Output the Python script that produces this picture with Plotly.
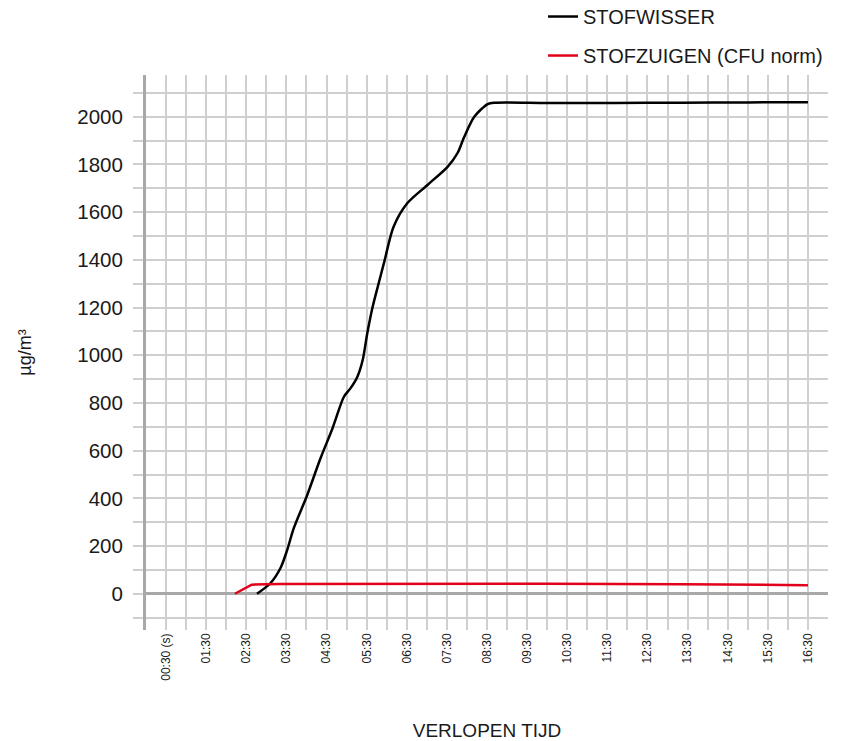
import plotly.graph_objects as go

# time in seconds
stofwisser_t = [166, 186, 201, 211, 221, 241, 261, 279, 296, 306, 316, 324, 331, 339, 348, 357,
                370, 391, 421, 451, 466, 476, 491, 511, 521, 600, 700, 800, 900, 990]
stofwisser_v = [0, 44, 107, 182, 275, 413, 568, 694, 826, 862, 909, 979, 1093, 1203, 1302, 1399,
                1537, 1638, 1714, 1790, 1848, 1916, 2000, 2053, 2059, 2058, 2058, 2059, 2060, 2061]

stofzuigen_t = [133, 158, 200, 400, 600, 800, 990]
stofzuigen_v = [0, 38, 41, 43, 42, 40, 36]

tick_vals = [30 + 60 * i for i in range(17)]
tick_text = ["00:30 (s)"] + [f"{m:02d}:30" for m in range(1, 17)]

FONT = "Liberation Sans, Arial, sans-serif"

fig = go.Figure()
fig.add_trace(go.Scatter(x=stofwisser_t, y=stofwisser_v, mode="lines", name="STOFWISSER",
                         line=dict(color="#000000", width=2.5, shape="spline", smoothing=0.8),
                         legendgroup="a"))
fig.add_trace(go.Scatter(x=stofzuigen_t, y=stofzuigen_v, mode="lines", name="STOFZUIGEN (CFU norm)",
                         line=dict(color="#e2001a", width=2.5), legendgroup="b"))

fig.update_layout(
    width=845, height=741,
    margin=dict(l=146, r=17, t=75, b=111, autoexpand=False),
    paper_bgcolor="white", plot_bgcolor="white",
    font=dict(family=FONT, color="#1a1a1a"),
    showlegend=True,
    legend=dict(x=1, xanchor="right", y=1.1405, yanchor="top", font=dict(size=20, color="#1a1a1a"),
                tracegroupgap=10, traceorder="grouped", bgcolor="rgba(0,0,0,0)"),
    xaxis=dict(range=[0, 1020], tickmode="array", tickvals=tick_vals, ticktext=tick_text,
               tickangle=-90, tickfont=dict(size=12, color="#1a1a1a"),
               showgrid=True, gridcolor="#cfcfcf", gridwidth=1.5,
               minor=dict(dtick=30, tick0=0, showgrid=True, gridcolor="#cfcfcf", gridwidth=1.5),
               zeroline=False, showline=False, ticks="", automargin=False,
               title=dict(text="VERLOPEN TIJD", font=dict(size=19, color="#1a1a1a"), standoff=43)),
    yaxis=dict(range=[-152, 2175], tick0=0, dtick=200, tickfont=dict(size=20.5, color="#1a1a1a"),
               showgrid=True, gridcolor="#cfcfcf", gridwidth=1.5,
               minor=dict(dtick=100, tick0=0, showgrid=True, gridcolor="#cfcfcf", gridwidth=1.5,
                          ticks="outside", ticklen=10, tickcolor="#cfcfcf", tickwidth=1.5),
               ticks="outside", ticklen=10, tickcolor="#cfcfcf", tickwidth=1.5,
               ticklabelstandoff=6, automargin=False,
               zeroline=True, zerolinecolor="#a8a8a8", zerolinewidth=3,
               showline=True, linecolor="#a8a8a8", linewidth=3,
               title=dict(text="µg/m³", font=dict(size=18, color="#1a1a1a"), standoff=41)),
)

fig.write_html("out.html", config={"displayModeBar": False},
               post_script="document.body.style.margin='0';")
